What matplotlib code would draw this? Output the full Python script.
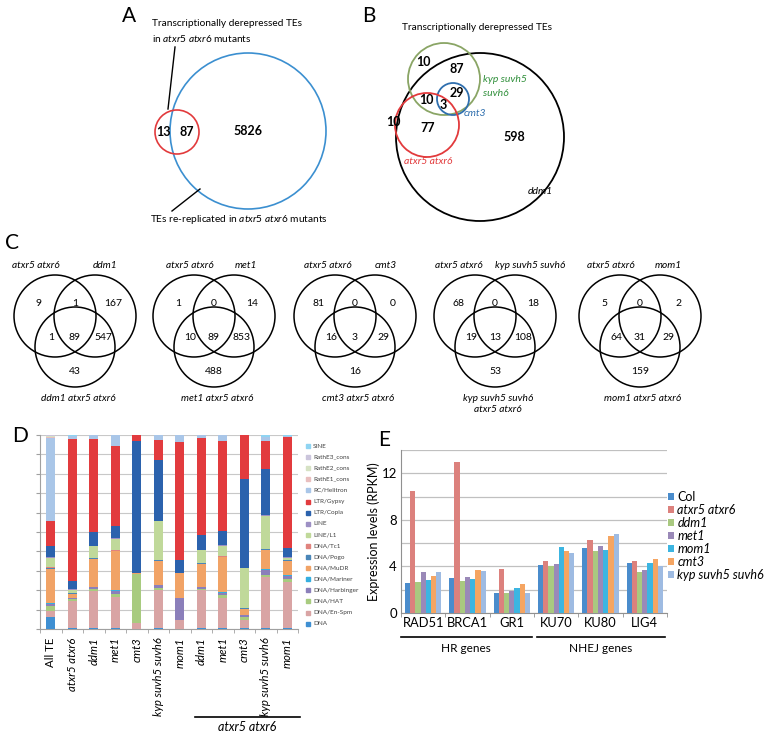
import matplotlib
matplotlib.use('Agg')
import matplotlib.pyplot as plt
from matplotlib.patches import Circle, Rectangle
import numpy as np

plt.rcParams['font.family'] = ['Lato', 'DejaVu Sans']
plt.rcParams['mathtext.fontset'] = 'custom'
plt.rcParams['mathtext.rm'] = 'Lato'
plt.rcParams['mathtext.it'] = 'Lato:italic'
plt.rcParams['mathtext.bf'] = 'Lato:bold'

# ---------------- DATA ----------------
# Panel A
a_derep_only = 13
a_overlap = 87
a_rerep_only = 5826
# Panel B
b_kyp_only = 10
b_kyp_ddm1 = 87
b_kyp_cmt3_ddm1 = 29
b_kyp_atx_ddm1 = 10
b_all_core = 3
b_atx_only = 10
b_atx_ddm1 = 77
b_ddm1_only = 598
# Panel C
c_left_labels = ['atxr5 atxr6'] * 5
c_right_labels = ['ddm1', 'met1', 'cmt3', 'kyp suvh5 suvh6', 'mom1']
c_bottom_labels = ['ddm1 atxr5 atxr6', 'met1 atxr5 atxr6', 'cmt3 atxr5 atxr6',
                   'kyp suvh5 suvh6\natxr5 atxr6', 'mom1 atxr5 atxr6']
# order: left only, left&right, right only, left&bottom, all, right&bottom, bottom only
c_counts = [[9, 1, 167, 1, 89, 547, 43],
            [1, 0, 14, 10, 89, 853, 488],
            [81, 0, 0, 16, 3, 29, 16],
            [68, 0, 18, 19, 13, 108, 53],
            [5, 0, 2, 64, 31, 29, 159]]
# Panel D
d_bars = ['All TE', 'atxr5 atxr6', 'ddm1', 'met1', 'cmt3', 'kyp suvh5 suvh6', 'mom1',
          'ddm1', 'met1', 'cmt3', 'kyp suvh5 suvh6', 'mom1']
d_categories = ['DNA', 'DNA/En-Spm', 'DNA/HAT', 'DNA/Harbinger', 'DNA/Mariner', 'DNA/MuDR',
                'DNA/Pogo', 'DNA/Tc1', 'LINE/L1', 'LINE', 'LTR/Copia', 'LTR/Gypsy',
                'RC/Helitron', 'RathE1_cons', 'RathE2_cons', 'RathE3_cons', 'SINE']
d_DNA       = [6, 0.3, 0.3, 0.5, 0, 0.3, 0, 0.3, 0.5, 0.3, 0.3, 0.5]
d_EnSpm     = [3.4, 14, 19.5, 16.2, 3, 19.7, 4.6, 19.7, 15.3, 4.3, 26.7, 23.9]
d_HAT       = [2.5, 1.2, 0.8, 1.5, 25.5, 1, 0, 0.8, 1.7, 1.5, 0.8, 1.2]
d_Harbinger = [1, 0.5, 0.8, 1.5, 0, 1.5, 11.2, 0.9, 1.2, 1, 2.6, 1.7]
d_Mariner   = [0.5, 0.2, 0.2, 0.3, 0, 0.3, 0, 0.2, 0.3, 0.3, 0.3, 0.3]
d_MuDR      = [17.5, 2, 14.6, 20, 0.2, 12.4, 13.2, 11.7, 18, 3, 10, 7.7]
d_Pogo      = [0.5, 0.2, 0.2, 0.3, 0, 0.3, 0, 0.3, 0.3, 0.2, 0.3, 0.2]
d_Tc1       = [0.5, 0.3, 0.3, 0.3, 0, 0.3, 0, 0.3, 0.3, 0.2, 0.3, 0.2]
d_L1        = [4.5, 1.5, 6, 5.8, 0, 19.8, 0, 6.4, 5.3, 20.6, 17, 1]
d_LINE      = [0.5, 0.2, 0.2, 0.3, 0, 0.3, 0, 0.2, 0.3, 0.2, 0.3, 0.2]
d_Copia     = [6, 4.6, 7.2, 6.5, 68, 31.3, 6.5, 7.4, 7.2, 45.5, 23.7, 4.6]
d_Gypsy     = [13, 73, 48, 41, 3.3, 10, 61.1, 50.1, 46.4, 22.9, 14.6, 57.6]
d_Helitron  = [42.5, 1.5, 1.9, 5.8, 0, 2.8, 3.4, 1.7, 3.2, 0, 2.1, 0.5]
d_RathE1    = [0.6, 0, 0, 0, 0, 0, 0, 0, 0, 0, 0, 0]
d_RathE2    = [0.5, 0, 0, 0, 0, 0, 0, 0, 0, 0, 0, 0]
d_RathE3    = [0.3, 0, 0, 0, 0, 0, 0, 0, 0, 0, 0, 0]
d_SINE      = [0.2, 0.5, 0, 0, 0, 0, 0, 0, 0, 0, 1, 0.4]
# Panel E
e_genes = ['RAD51', 'BRCA1', 'GR1', 'KU70', 'KU80', 'LIG4']
e_lines = ['Col', 'atxr5 atxr6', 'ddm1', 'met1', 'mom1', 'cmt3', 'kyp suvh5 suvh6']
e_Col  = [2.6, 3.0, 1.76, 4.08, 5.6, 4.28]
e_atx  = [10.45, 12.95, 3.78, 4.48, 6.24, 4.45]
e_ddm1 = [2.7, 2.75, 1.76, 4.0, 5.29, 3.52]
e_met1 = [3.5, 3.08, 1.87, 4.22, 5.73, 3.66]
e_mom1 = [2.8, 2.94, 2.18, 5.65, 5.37, 4.28]
e_cmt3 = [3.15, 3.72, 2.52, 5.31, 6.63, 4.65]
e_kyp  = [3.55, 3.64, 1.73, 5.12, 6.8, 4.0]

# ---------------- FIGURE ----------------
W, H = 765, 733
fig = plt.figure(figsize=(7.65, 7.33), dpi=100)
ov = fig.add_axes([0, 0, 1, 1])
ov.set_xlim(0, W); ov.set_ylim(H, 0); ov.axis('off')

def letter(x, y, s):
    ov.text(x, y, s, fontsize=15, ha='left', va='center')

# ---- Panel A ----
letter(122, 16, 'A')
ov.add_patch(Circle((248, 131), 78, fill=False, ec='#3b8fd0', lw=1.2))
ov.add_patch(Circle((177, 132), 22, fill=False, ec='#e23a3c', lw=1.2))
ov.text(163, 132, str(a_derep_only), fontsize=9, fontweight='bold', ha='center', va='center')
ov.text(187, 132, str(a_overlap), fontsize=9, fontweight='bold', ha='center', va='center')
ov.text(248, 131, str(a_rerep_only), fontsize=9, fontweight='bold', ha='center', va='center')
ov.text(152, 24, 'Transcriptionally derepressed TEs', fontsize=7.3, ha='left', va='center')
ov.text(152, 38, r'in $\mathit{atxr5\ atxr6}$ mutants', fontsize=7.3, ha='left', va='center')
ov.plot([175, 168], [47, 109], color='black', lw=1)
ov.plot([200, 172], [189, 211], color='black', lw=1)
ov.text(150, 219, r'TEs re-replicated in $\mathit{atxr5\ atxr6}$ mutants', fontsize=7.3,
        ha='left', va='center')

# ---- Panel B ----
letter(362, 16, 'B')
ov.text(402, 27, 'Transcriptionally derepressed TEs', fontsize=7.3, ha='left', va='center')
ov.add_patch(Circle((480, 137), 84, fill=False, ec='black', lw=1.3))
ov.add_patch(Circle((444, 79), 36, fill=False, ec='#8aa565', lw=1.3))
ov.add_patch(Circle((453, 99), 16, fill=False, ec='#2f6fae', lw=1.3))
ov.add_patch(Circle((427, 125), 32, fill=False, ec='#e23a3c', lw=1.3))
for (x, y, v) in [(423, 62, b_kyp_only), (457, 69, b_kyp_ddm1), (457, 93, b_kyp_cmt3_ddm1),
                  (426, 100, b_kyp_atx_ddm1), (443, 105, b_all_core), (393, 122, b_atx_only),
                  (428, 128, b_atx_ddm1), (514, 137, b_ddm1_only)]:
    ov.text(x, y, str(v), fontsize=9, fontweight='bold', ha='center', va='center')
ov.text(483, 80, 'kyp suvh5', fontsize=7.5, style='italic', color='#2f8f3a', ha='left', va='center')
ov.text(483, 93, 'suvh6', fontsize=7.5, style='italic', color='#2f8f3a', ha='left', va='center')
ov.text(464, 113, 'cmt3', fontsize=7.5, style='italic', color='#2f6fae', ha='left', va='center')
ov.text(428, 162, 'atxr5 atxr6', fontsize=7.5, style='italic', color='#e23a3c', ha='center', va='center')
ov.text(528, 192, 'ddm1', fontsize=7.5, style='italic', color='black', ha='left', va='center')

# ---- Panel C ----
letter(5, 243, 'C')
c_cx = [75, 214, 355, 495, 640]
c_left_dx = [-39, -24, -27, -36, -29]
c_right_dx = [30, 32, 31, 35, 28]
num_off = [(-36, 303), (0, 303), (38, 303), (-24, 338), (0, 338), (28, 338), (0, 371)]
for k, cx in enumerate(c_cx):
    ov.add_patch(Circle((cx - 20, 316), 41, fill=False, ec='black', lw=1.1))
    ov.add_patch(Circle((cx + 20, 316), 41, fill=False, ec='black', lw=1.1))
    ov.add_patch(Circle((cx, 347), 40, fill=False, ec='black', lw=1.1))
    for (dx, y), v in zip(num_off, c_counts[k]):
        ov.text(cx + dx, y, str(v), fontsize=7.5, ha='center', va='center')
    ov.text(cx + c_left_dx[k], 265, c_left_labels[k], fontsize=7.3, style='italic',
            ha='center', va='center')
    ov.text(cx + c_right_dx[k], 265, c_right_labels[k], fontsize=7.3, style='italic',
            ha='center', va='center')
    ov.text(cx + 3, 394, c_bottom_labels[k], fontsize=7.3, style='italic',
            ha='center', va='top', linespacing=1.3)

# ---- Panel D ----
letter(12, 436, 'D')
d_colors = ['#3f8fd2', '#d9a4a4', '#a8cb7f', '#8b7fba', '#35aee0', '#f1a366',
            '#4a86b8', '#e0837e', '#c0d99a', '#9d90c4', '#2b62ad', '#e23b3e',
            '#a9c6e8', '#e9bebe', '#d6e2c4', '#cbc5dc', '#8fd4f2']
d_values = [d_DNA, d_EnSpm, d_HAT, d_Harbinger, d_Mariner, d_MuDR, d_Pogo, d_Tc1,
            d_L1, d_LINE, d_Copia, d_Gypsy, d_Helitron, d_RathE1, d_RathE2, d_RathE3, d_SINE]
axD = fig.add_axes([40 / W, 1 - 629 / H, (298 - 40) / W, (629 - 435) / H])
xD = np.arange(len(d_bars))
bottom = np.zeros(len(d_bars))
for vals, col in zip(d_values, d_colors):
    vals = np.array(vals, dtype=float)
    axD.bar(xD, vals, 0.43, bottom=bottom, color=col, edgecolor='none', zorder=3)
    bottom += vals
axD.set_xlim(-0.5, len(d_bars) - 0.5)
axD.set_ylim(0, 100)
axD.set_yticks(np.arange(0, 101, 10))
axD.set_yticklabels([])
axD.yaxis.grid(True, color='#c8c8c8', lw=0.8, zorder=0)
axD.tick_params(axis='y', length=3, color='#a0a0a0')
axD.set_xticks(xD)
axD.set_xticklabels(d_bars, rotation=90, fontsize=8.2)
for i, t in enumerate(axD.get_xticklabels()):
    if i > 0:
        t.set_style('italic')
axD.set_xticks(np.arange(-0.5, len(d_bars), 1), minor=True)
axD.tick_params(axis='x', which='major', length=0, pad=6)
axD.tick_params(axis='x', which='minor', length=3, color='#a0a0a0')
for s in ['top', 'right']:
    axD.spines[s].set_visible(False)
for s in ['left', 'bottom']:
    axD.spines[s].set_color('#a0a0a0')
# D legend
for i, (cat, col) in enumerate(zip(d_categories[::-1], d_colors[::-1])):
    y = 446 + 11.1 * i
    ov.add_patch(Rectangle((306, y - 2), 4, 4, color=col))
    ov.text(313, y, cat, fontsize=4.6, color='#404040', ha='left', va='center')
ov.plot([195, 300], [717, 717], color='black', lw=1.2)
ov.text(247, 727, 'atxr5 atxr6', fontsize=9, style='italic', ha='center', va='center')

# ---- Panel E ----
letter(378, 440, 'E')
e_colors = ['#4a8ccc', '#dc817d', '#a9c980', '#9a89b8', '#3cb5e1', '#f5a562', '#9ebbe2']
e_values = [e_Col, e_atx, e_ddm1, e_met1, e_mom1, e_cmt3, e_kyp]
axE = fig.add_axes([401 / W, 1 - 613 / H, (667 - 401) / W, (613 - 450) / H])
xE = np.arange(len(e_genes))
bw = 0.118
for j, (vals, col, lab) in enumerate(zip(e_values, e_colors, e_lines)):
    axE.bar(xE + (j - 3) * bw, vals, bw, color=col, edgecolor='none', zorder=3, label=lab)
axE.set_xlim(-0.5, len(e_genes) - 0.5)
axE.set_ylim(0, 14)
axE.set_yticks([0, 4, 8, 12])
axE.set_yticks([2, 6, 10, 14], minor=True)
axE.tick_params(axis='y', which='both', length=0, labelsize=9.5, pad=3)
axE.yaxis.grid(True, which='both', color='#c0c0c0', lw=0.9, zorder=0)
axE.set_xticks(xE)
axE.set_xticklabels(e_genes, fontsize=9.3)
axE.set_xticks(np.arange(-0.5, len(e_genes), 1), minor=True)
axE.tick_params(axis='x', which='major', length=0, pad=3)
axE.tick_params(axis='x', which='minor', length=3, color='#909090')
for s in ['top', 'right']:
    axE.spines[s].set_visible(False)
for s in ['left', 'bottom']:
    axE.spines[s].set_color('#909090')
axE.set_ylabel('Expression levels (RPKM)', fontsize=9, labelpad=1)
leg = axE.legend(loc='upper left', bbox_to_anchor=(668 / W, 1 - 491 / H),
                 bbox_transform=fig.transFigure, frameon=False, fontsize=9,
                 handlelength=0.5, handleheight=0.5, handletextpad=0.25,
                 labelspacing=0.08, borderaxespad=0, borderpad=0)
for i, t in enumerate(leg.get_texts()):
    if i > 0:
        t.set_style('italic')
ov.plot([401, 532], [637, 637], color='black', lw=1.2)
ov.plot([537, 665], [637, 637], color='black', lw=1.2)
ov.text(466, 649, 'HR genes', fontsize=8.5, ha='center', va='center')
ov.text(601, 649, 'NHEJ genes', fontsize=8.5, ha='center', va='center')

fig.savefig('out.png', dpi=100)
